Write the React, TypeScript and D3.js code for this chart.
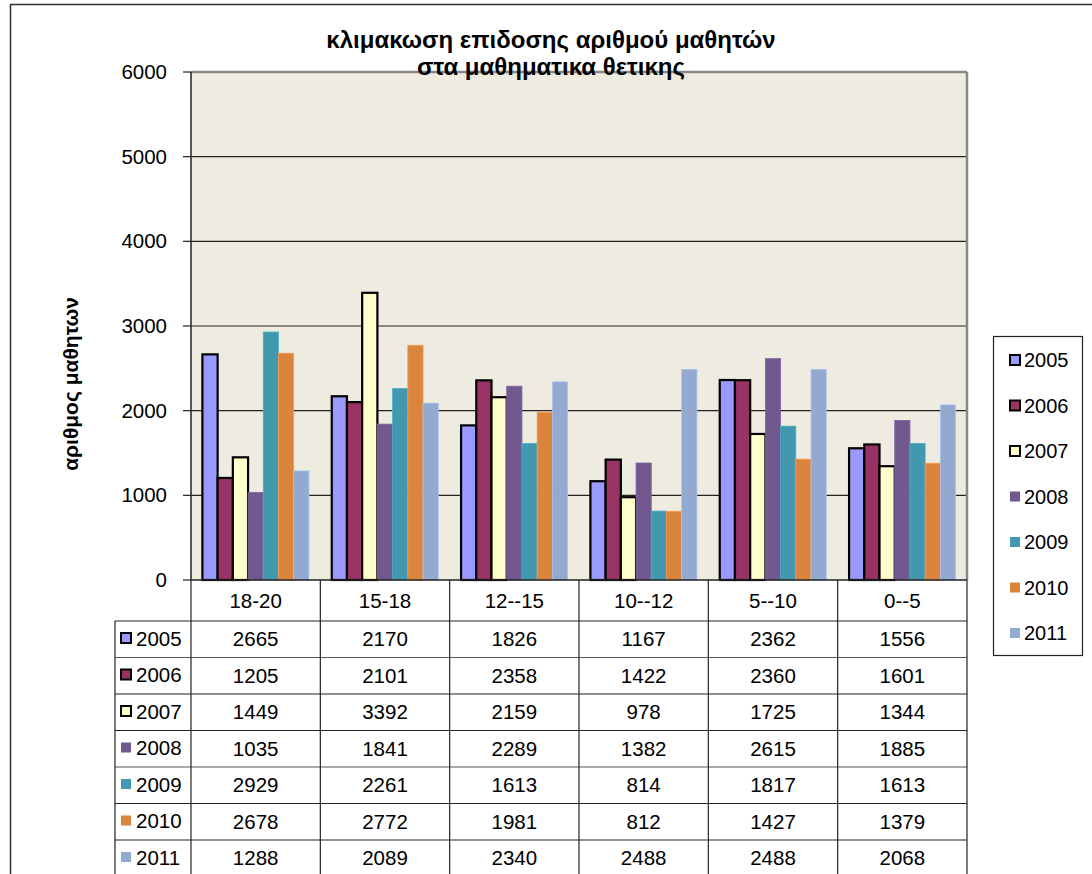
import React from "react";
import * as d3 from "d3";

const categories = ["18-20", "15-18", "12--15", "10--12", "5--10", "0--5"];
const years = ["2005", "2006", "2007", "2008", "2009", "2010", "2011"];
const v2005 = [2665, 2170, 1826, 1167, 2362, 1556];
const v2006 = [1205, 2101, 2358, 1422, 2360, 1601];
const v2007 = [1449, 3392, 2159, 978, 1725, 1344];
const v2008 = [1035, 1841, 2289, 1382, 2615, 1885];
const v2009 = [2929, 2261, 1613, 814, 1817, 1613];
const v2010 = [2678, 2772, 1981, 812, 1427, 1379];
const v2011 = [1288, 2089, 2340, 2488, 2488, 2068];
const yTicks = [0, 1000, 2000, 3000, 4000, 5000, 6000];
const titleLines = ["κλιμακωση επιδοσης αριθμού μαθητών", "στα μαθηματικα θετικης"];
const yLabel = "αριθμος μαθητων";

const seriesValues = [v2005, v2006, v2007, v2008, v2009, v2010, v2011];
const colors = ["#9999FF", "#993366", "#FFFFCC", "#71588F", "#4198AF", "#DB843D", "#93A9CF"];
const bordered = [true, true, true, false, false, false, false];

export default function App() {
  const W = 1092, H = 874;
  const pl = 191, pr = 967, pt = 72, pb = 580;
  const font = "'Liberation Sans', Arial, sans-serif";
  const fs = 20.5;

  const x = d3.scaleBand<string>().domain(categories).range([pl, pr]).padding(0);
  const cw = x.bandwidth();
  const bw = cw / 8.5;
  const y = d3.scaleLinear().domain([0, 6000]).range([pb, pt]);

  const tableLeft = 115;
  const headerBottom = 621;
  const rowH = 36.5;
  const rowYs = years.map((_, i) => headerBottom + i * rowH);

  return (
    <svg width={W} height={H} style={{ position: "absolute", left: 0, top: 0, background: "#fff" }} fontFamily={font}>
      <rect x={10.5} y={4.5} width={1200} height={1000} fill="#fff" stroke="#333" strokeWidth={1.5} />
      {/* plot area */}
      <rect x={pl} y={pt} width={pr - pl} height={pb - pt} fill="#EEECE1" />
      {yTicks.slice(1, -1).map((t) => (
        <line key={t} x1={pl} x2={pr} y1={y(t)} y2={y(t)} stroke="#222" strokeWidth={1.2} />
      ))}
      <line x1={pl} x2={pr} y1={pt} y2={pt} stroke="#888" strokeWidth={2.5} />
      <line x1={pr} x2={pr} y1={pt} y2={pb} stroke="#888" strokeWidth={2.5} />
      {/* bars */}
      {seriesValues.map((vals, si) =>
        vals.map((v, ci) => {
          const bx = (x(categories[ci]) as number) + 0.75 * bw + si * bw;
          return (
            <rect key={`${si}-${ci}`} x={bx} y={y(v)} width={bw} height={y(0) - y(v)}
              fill={colors[si]}
              stroke={bordered[si] ? "#000" : d3.color(colors[si])!.brighter(0.4).formatHex()}
              strokeWidth={bordered[si] ? 2.2 : 0.8} />
          );
        })
      )}
      {/* y axis */}
      <line x1={pl} x2={pl} y1={pt} y2={pb} stroke="#222" strokeWidth={1.5} />
      {yTicks.map((t) => (
        <g key={t}>
          <line x1={pl - 8} x2={pl} y1={y(t)} y2={y(t)} stroke="#222" strokeWidth={1.2} />
          <text x={167} y={y(t) + 7} textAnchor="end" fontSize={fs} fill="#000">{t}</text>
        </g>
      ))}
      <text transform={`translate(78,384) rotate(-90)`} textAnchor="middle" fontSize={21} fontWeight="bold" fill="#000">{yLabel}</text>
      {/* data table */}
      <line x1={pl} x2={pr} y1={pb} y2={pb} stroke="#222" strokeWidth={1.5} />
      {rowYs.map((ry, i) => (
        <line key={i} x1={tableLeft} x2={pr} y1={ry} y2={ry} stroke={i % 3 === 1 ? "#555" : "#222"} strokeWidth={1.2} />
      ))}
      <line x1={tableLeft} x2={pr} y1={headerBottom + 7 * rowH} y2={headerBottom + 7 * rowH} stroke="#222" strokeWidth={1.2} />
      <line x1={tableLeft} x2={tableLeft} y1={headerBottom} y2={H + 5} stroke="#222" strokeWidth={1.2} />
      {categories.map((c) => (
        <line key={c} x1={x(c) as number} x2={x(c) as number} y1={pb} y2={H + 5} stroke="#222" strokeWidth={1.2} />
      ))}
      <line x1={pr} x2={pr} y1={pb} y2={H + 5} stroke="#222" strokeWidth={1.2} />
      {categories.map((c) => (
        <text key={c} x={(x(c) as number) + cw / 2} y={608} textAnchor="middle" fontSize={fs} fill="#000">{c}</text>
      ))}
      {years.map((yr, si) => (
        <g key={yr}>
          <rect x={121} y={rowYs[si] + 12} width={10} height={10}
            fill={colors[si]} stroke={bordered[si] ? "#000" : "none"} strokeWidth={bordered[si] ? 2 : 0} />
          <text x={136} y={rowYs[si] + 24.5} fontSize={fs} fill="#000">{yr}</text>
          {seriesValues[si].map((v, ci) => (
            <text key={ci} x={(x(categories[ci]) as number) + cw / 2} y={rowYs[si] + 25} textAnchor="middle" fontSize={fs} fill="#000">{v}</text>
          ))}
        </g>
      ))}
      {/* legend */}
      <rect x={993.5} y={336.5} width={89} height={319} fill="#fff" stroke="#222" strokeWidth={1.2} />
      {years.map((yr, si) => {
        const cy = 360 + si * 45.5;
        return (
          <g key={yr}>
            <rect x={1010} y={cy - 5} width={10} height={10} fill={colors[si]}
              stroke={bordered[si] ? "#000" : "none"} strokeWidth={bordered[si] ? 2 : 0} />
            <text x={1024} y={cy + 7} fontSize={20} fill="#000">{yr}</text>
          </g>
        );
      })}
      {/* title (on top) */}
      {titleLines.map((t, i) => (
        <text key={i} x={551} y={48 + i * 27} textAnchor="middle" fontSize={24} fontWeight="bold" fill="#000">{t}</text>
      ))}
    </svg>
  );
}
